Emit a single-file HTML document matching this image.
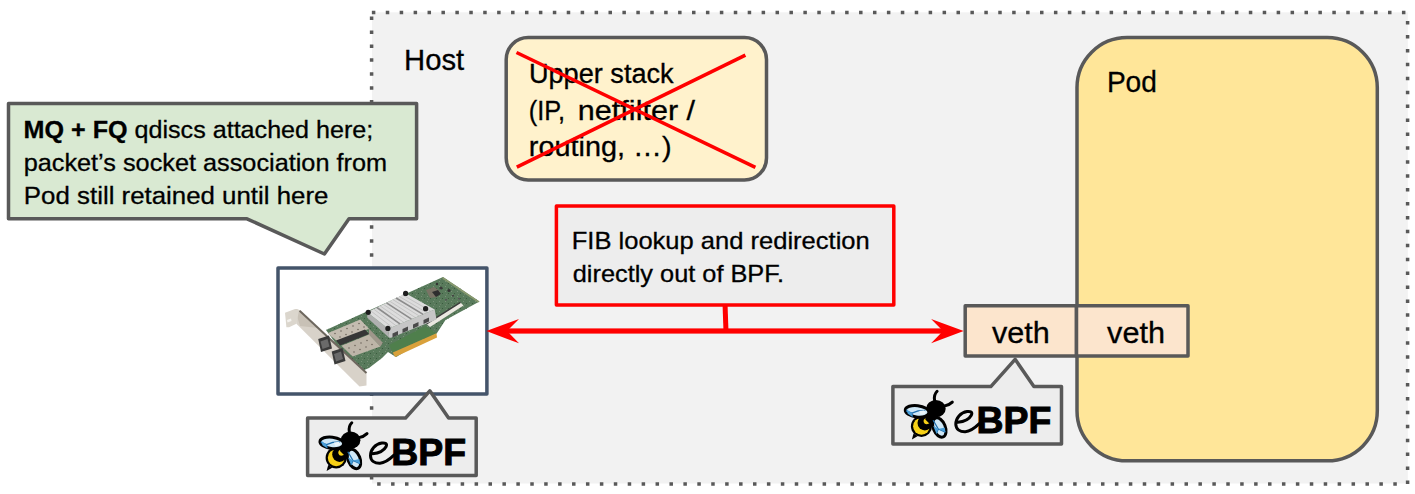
<!DOCTYPE html>
<html><head><meta charset="utf-8"><style>
html,body{margin:0;padding:0;background:#fff;}
body{width:1415px;height:494px;overflow:hidden;}
svg{display:block;}
path,rect{stroke-linejoin:round;}
text{font-family:"Liberation Sans",sans-serif;fill:#000;stroke:#000;stroke-width:0.3px;}
</style></head><body>
<svg width="1415" height="494" viewBox="0 0 1415 494">
<defs>
<pattern id="pcbdots" width="6" height="5" patternUnits="userSpaceOnUse"><rect x="1" y="1" width="1" height="1" fill="#7a9279"/><rect x="4" y="3" width="1" height="1" fill="#3b5a3e"/><rect x="2" y="4" width="1" height="1" fill="#6f866d"/></pattern>
<g id="logo"><g stroke="#000" stroke-width="3" stroke-linecap="round" fill="none">
<path d="M349.3 432 C348.6 428,349.6 425,351.8 422.8"/>
<path d="M358.8 437.6 C362 437,365 435.6,367 433.6"/>
</g>
<path d="M328.2 465 L326.6 471 L332.5 467.5 Z" fill="#000"/>
<circle cx="336.2" cy="457.8" r="10.6" fill="#000"/>
<circle cx="336.2" cy="457.8" r="8.4" fill="#f7d117"/><circle cx="339.6" cy="454.6" r="7.4" fill="#000"/>
<ellipse cx="342.6" cy="452.2" rx="4.4" ry="3.1" transform="rotate(-20 342.6 452.2)" fill="#f7d117"/>
<ellipse cx="350.6" cy="440.2" rx="9.8" ry="8.6" fill="#000"/>
<path d="M341 445 L350 448 L349 454 L345 456 L340 451Z" fill="#000"/>
<g transform="translate(331.8 442.8) rotate(7)">
<ellipse cx="0" cy="0" rx="11.9" ry="5.7" fill="#cfe8f7" stroke="#000" stroke-width="3"/>
<path d="M-11 1 L-5 2.5 L1 -0.5 L8 -2" fill="none" stroke="#1f6fae" stroke-width="1.3"/>
<path d="M-5 2.5 L-4 6" fill="none" stroke="#1f6fae" stroke-width="1.3"/>
<path d="M-11 -1 L-5 2.5 L-4.5 5.8 L-9 3.5 Z" fill="#4a9fd8"/>
<path d="M2 -0.5 L7 -2 L9 1 L4 3 Z" fill="#e9f5fc"/>
</g>
<g transform="translate(354 459) rotate(-22)">
<ellipse cx="0" cy="0" rx="6" ry="10.2" fill="#cfe8f7" stroke="#000" stroke-width="3"/>
<path d="M-3 -9 L-1.5 1 L4 6.5 M-1.5 1 L-5 4.5" fill="none" stroke="#1f6fae" stroke-width="1.3"/>
<path d="M-5 -4 L-1.5 1 L-5 4.5 Z" fill="#4a9fd8"/>
<path d="M-1.5 1 L5 2 L4 6.5 Z" fill="#4a9fd8"/>
</g>
<path d="M372.4 453.8 C377.5 453.3,383.8 451,386 446.8 C387.6 443.6,385.2 442.6,381.8 443 C375.2 444,370.4 449.5,370.5 455.7 C370.6 461.2,375 463.5,380 463.3 C385.5 463,389.5 459.5,394 455.2" fill="none" stroke="#000" stroke-width="3" stroke-linecap="round"/>
<text x="391.3" y="464.5" font-size="37.5" font-weight="bold" textLength="74.77" lengthAdjust="spacingAndGlyphs" stroke="#000" stroke-width="1" style="font-family:'Liberation Sans',sans-serif;stroke-width:1px">BPF</text>
</g>
</defs>
<rect x="0" y="0" width="1415" height="494" fill="#fff"/>
<rect x="372" y="12.3" width="1035.8" height="471.2" fill="#f2f2f2"/>
<path d="M371.85 10.65h3.5v3.5h-3.5zM385.77 10.65h3.5v3.5h-3.5zM399.69 10.65h3.5v3.5h-3.5zM413.61 10.65h3.5v3.5h-3.5zM427.53 10.65h3.5v3.5h-3.5zM441.45 10.65h3.5v3.5h-3.5zM455.37 10.65h3.5v3.5h-3.5zM469.29 10.65h3.5v3.5h-3.5zM483.21 10.65h3.5v3.5h-3.5zM497.13 10.65h3.5v3.5h-3.5zM511.05 10.65h3.5v3.5h-3.5zM524.97 10.65h3.5v3.5h-3.5zM538.89 10.65h3.5v3.5h-3.5zM552.81 10.65h3.5v3.5h-3.5zM566.73 10.65h3.5v3.5h-3.5zM580.65 10.65h3.5v3.5h-3.5zM594.57 10.65h3.5v3.5h-3.5zM608.49 10.65h3.5v3.5h-3.5zM622.41 10.65h3.5v3.5h-3.5zM636.33 10.65h3.5v3.5h-3.5zM650.25 10.65h3.5v3.5h-3.5zM664.17 10.65h3.5v3.5h-3.5zM678.09 10.65h3.5v3.5h-3.5zM692.01 10.65h3.5v3.5h-3.5zM705.93 10.65h3.5v3.5h-3.5zM719.85 10.65h3.5v3.5h-3.5zM733.77 10.65h3.5v3.5h-3.5zM747.69 10.65h3.5v3.5h-3.5zM761.61 10.65h3.5v3.5h-3.5zM775.53 10.65h3.5v3.5h-3.5zM789.45 10.65h3.5v3.5h-3.5zM803.37 10.65h3.5v3.5h-3.5zM817.29 10.65h3.5v3.5h-3.5zM831.21 10.65h3.5v3.5h-3.5zM845.13 10.65h3.5v3.5h-3.5zM859.05 10.65h3.5v3.5h-3.5zM872.97 10.65h3.5v3.5h-3.5zM886.89 10.65h3.5v3.5h-3.5zM900.81 10.65h3.5v3.5h-3.5zM914.73 10.65h3.5v3.5h-3.5zM928.65 10.65h3.5v3.5h-3.5zM942.57 10.65h3.5v3.5h-3.5zM956.49 10.65h3.5v3.5h-3.5zM970.41 10.65h3.5v3.5h-3.5zM984.33 10.65h3.5v3.5h-3.5zM998.25 10.65h3.5v3.5h-3.5zM1012.17 10.65h3.5v3.5h-3.5zM1026.09 10.65h3.5v3.5h-3.5zM1040.01 10.65h3.5v3.5h-3.5zM1053.93 10.65h3.5v3.5h-3.5zM1067.85 10.65h3.5v3.5h-3.5zM1081.77 10.65h3.5v3.5h-3.5zM1095.69 10.65h3.5v3.5h-3.5zM1109.61 10.65h3.5v3.5h-3.5zM1123.53 10.65h3.5v3.5h-3.5zM1137.45 10.65h3.5v3.5h-3.5zM1151.37 10.65h3.5v3.5h-3.5zM1165.29 10.65h3.5v3.5h-3.5zM1179.21 10.65h3.5v3.5h-3.5zM1193.13 10.65h3.5v3.5h-3.5zM1207.05 10.65h3.5v3.5h-3.5zM1220.97 10.65h3.5v3.5h-3.5zM1234.89 10.65h3.5v3.5h-3.5zM1248.81 10.65h3.5v3.5h-3.5zM1262.73 10.65h3.5v3.5h-3.5zM1276.65 10.65h3.5v3.5h-3.5zM1290.57 10.65h3.5v3.5h-3.5zM1304.49 10.65h3.5v3.5h-3.5zM1318.41 10.65h3.5v3.5h-3.5zM1332.33 10.65h3.5v3.5h-3.5zM1346.25 10.65h3.5v3.5h-3.5zM1360.17 10.65h3.5v3.5h-3.5zM1374.09 10.65h3.5v3.5h-3.5zM1388.01 10.65h3.5v3.5h-3.5zM1401.93 10.65h3.5v3.5h-3.5zM1405.85 21.05h3.5v3.5h-3.5zM1405.85 34.97h3.5v3.5h-3.5zM1405.85 48.89h3.5v3.5h-3.5zM1405.85 62.81h3.5v3.5h-3.5zM1405.85 76.73h3.5v3.5h-3.5zM1405.85 90.65h3.5v3.5h-3.5zM1405.85 104.57h3.5v3.5h-3.5zM1405.85 118.49h3.5v3.5h-3.5zM1405.85 132.41h3.5v3.5h-3.5zM1405.85 146.33h3.5v3.5h-3.5zM1405.85 160.25h3.5v3.5h-3.5zM1405.85 174.17h3.5v3.5h-3.5zM1405.85 188.09h3.5v3.5h-3.5zM1405.85 202.01h3.5v3.5h-3.5zM1405.85 215.93h3.5v3.5h-3.5zM1405.85 229.85h3.5v3.5h-3.5zM1405.85 243.77h3.5v3.5h-3.5zM1405.85 257.69h3.5v3.5h-3.5zM1405.85 271.61h3.5v3.5h-3.5zM1405.85 285.53h3.5v3.5h-3.5zM1405.85 299.45h3.5v3.5h-3.5zM1405.85 313.37h3.5v3.5h-3.5zM1405.85 327.29h3.5v3.5h-3.5zM1405.85 341.21h3.5v3.5h-3.5zM1405.85 355.13h3.5v3.5h-3.5zM1405.85 369.05h3.5v3.5h-3.5zM1405.85 382.97h3.5v3.5h-3.5zM1405.85 396.89h3.5v3.5h-3.5zM1405.85 410.81h3.5v3.5h-3.5zM1405.85 424.73h3.5v3.5h-3.5zM1405.85 438.65h3.5v3.5h-3.5zM1405.85 452.57h3.5v3.5h-3.5zM1405.85 466.49h3.5v3.5h-3.5zM1405.85 480.41h3.5v3.5h-3.5zM377.15 482.35h3.5v3.5h-3.5zM391.07 482.35h3.5v3.5h-3.5zM404.99 482.35h3.5v3.5h-3.5zM418.91 482.35h3.5v3.5h-3.5zM432.83 482.35h3.5v3.5h-3.5zM446.75 482.35h3.5v3.5h-3.5zM460.67 482.35h3.5v3.5h-3.5zM474.59 482.35h3.5v3.5h-3.5zM488.51 482.35h3.5v3.5h-3.5zM502.43 482.35h3.5v3.5h-3.5zM516.35 482.35h3.5v3.5h-3.5zM530.27 482.35h3.5v3.5h-3.5zM544.19 482.35h3.5v3.5h-3.5zM558.11 482.35h3.5v3.5h-3.5zM572.03 482.35h3.5v3.5h-3.5zM585.95 482.35h3.5v3.5h-3.5zM599.87 482.35h3.5v3.5h-3.5zM613.79 482.35h3.5v3.5h-3.5zM627.71 482.35h3.5v3.5h-3.5zM641.63 482.35h3.5v3.5h-3.5zM655.55 482.35h3.5v3.5h-3.5zM669.47 482.35h3.5v3.5h-3.5zM683.39 482.35h3.5v3.5h-3.5zM697.31 482.35h3.5v3.5h-3.5zM711.23 482.35h3.5v3.5h-3.5zM725.15 482.35h3.5v3.5h-3.5zM739.07 482.35h3.5v3.5h-3.5zM752.99 482.35h3.5v3.5h-3.5zM766.91 482.35h3.5v3.5h-3.5zM780.83 482.35h3.5v3.5h-3.5zM794.75 482.35h3.5v3.5h-3.5zM808.67 482.35h3.5v3.5h-3.5zM822.59 482.35h3.5v3.5h-3.5zM836.51 482.35h3.5v3.5h-3.5zM850.43 482.35h3.5v3.5h-3.5zM864.35 482.35h3.5v3.5h-3.5zM878.27 482.35h3.5v3.5h-3.5zM892.19 482.35h3.5v3.5h-3.5zM906.11 482.35h3.5v3.5h-3.5zM920.03 482.35h3.5v3.5h-3.5zM933.95 482.35h3.5v3.5h-3.5zM947.87 482.35h3.5v3.5h-3.5zM961.79 482.35h3.5v3.5h-3.5zM975.71 482.35h3.5v3.5h-3.5zM989.63 482.35h3.5v3.5h-3.5zM1003.55 482.35h3.5v3.5h-3.5zM1017.47 482.35h3.5v3.5h-3.5zM1031.39 482.35h3.5v3.5h-3.5zM1045.31 482.35h3.5v3.5h-3.5zM1059.23 482.35h3.5v3.5h-3.5zM1073.15 482.35h3.5v3.5h-3.5zM1087.07 482.35h3.5v3.5h-3.5zM1100.99 482.35h3.5v3.5h-3.5zM1114.91 482.35h3.5v3.5h-3.5zM1128.83 482.35h3.5v3.5h-3.5zM1142.75 482.35h3.5v3.5h-3.5zM1156.67 482.35h3.5v3.5h-3.5zM1170.59 482.35h3.5v3.5h-3.5zM1184.51 482.35h3.5v3.5h-3.5zM1198.43 482.35h3.5v3.5h-3.5zM1212.35 482.35h3.5v3.5h-3.5zM1226.27 482.35h3.5v3.5h-3.5zM1240.19 482.35h3.5v3.5h-3.5zM1254.11 482.35h3.5v3.5h-3.5zM1268.03 482.35h3.5v3.5h-3.5zM1281.95 482.35h3.5v3.5h-3.5zM1295.87 482.35h3.5v3.5h-3.5zM1309.79 482.35h3.5v3.5h-3.5zM1323.71 482.35h3.5v3.5h-3.5zM1337.63 482.35h3.5v3.5h-3.5zM1351.55 482.35h3.5v3.5h-3.5zM1365.47 482.35h3.5v3.5h-3.5zM1379.39 482.35h3.5v3.5h-3.5zM1393.31 482.35h3.5v3.5h-3.5zM369.85 16.55h3.5v3.5h-3.5zM369.85 30.47h3.5v3.5h-3.5zM369.85 44.39h3.5v3.5h-3.5zM369.85 58.31h3.5v3.5h-3.5zM369.85 72.23h3.5v3.5h-3.5zM369.85 86.15h3.5v3.5h-3.5zM369.85 100.07h3.5v3.5h-3.5zM369.85 113.99h3.5v3.5h-3.5zM369.85 127.91h3.5v3.5h-3.5zM369.85 141.83h3.5v3.5h-3.5zM369.85 155.75h3.5v3.5h-3.5zM369.85 169.67h3.5v3.5h-3.5zM369.85 183.59h3.5v3.5h-3.5zM369.85 197.51h3.5v3.5h-3.5zM369.85 211.43h3.5v3.5h-3.5zM369.85 225.35h3.5v3.5h-3.5zM369.85 239.27h3.5v3.5h-3.5zM369.85 253.19h3.5v3.5h-3.5zM369.85 267.11h3.5v3.5h-3.5zM369.85 281.03h3.5v3.5h-3.5zM369.85 294.95h3.5v3.5h-3.5zM369.85 308.87h3.5v3.5h-3.5zM369.85 322.79h3.5v3.5h-3.5zM369.85 336.71h3.5v3.5h-3.5zM369.85 350.63h3.5v3.5h-3.5zM369.85 364.55h3.5v3.5h-3.5zM369.85 378.47h3.5v3.5h-3.5zM369.85 392.39h3.5v3.5h-3.5zM369.85 406.31h3.5v3.5h-3.5zM369.85 420.23h3.5v3.5h-3.5zM369.85 434.15h3.5v3.5h-3.5zM369.85 448.07h3.5v3.5h-3.5zM369.85 461.99h3.5v3.5h-3.5zM369.85 475.91h3.5v3.5h-3.5z" fill="#595959"/>
<rect x="506.2" y="37.6" width="260.3" height="142.4" rx="22" fill="#fff2cc" stroke="#595959" stroke-width="3.5"/>
<rect x="1077" y="37.6" width="300.3" height="423.2" rx="50" fill="#ffe699" stroke="#595959" stroke-width="3.5"/>
<rect x="965.2" y="305.8" width="111.3" height="50.3" fill="#fce5cd" stroke="#595959" stroke-width="3.5"/>
<rect x="1076.5" y="305.8" width="111.5" height="50.3" fill="#fce5cd" stroke="#595959" stroke-width="3.5"/>
<path d="M8.5 103.6H416.6V218.8H349L324.4 254L247 218.8H8.5Z" fill="#d9e9d2" stroke="#595959" stroke-width="3.5" stroke-linejoin="round"/>
<rect x="278" y="267.9" width="208.9" height="126.1" fill="#fff" stroke="#44546a" stroke-width="3.5"/>
<g id="nic"><g stroke="none">
<!-- PCB -->
<path d="M326 330L443 277.1L479.5 301.4L445.5 320L437 333L396 357L388 352L382 358L369 368L362 371L352 366Z" fill="#587a5b"/>
<path d="M326 330L443 277.1L479.5 301.4L445.5 320L437 333L396 357L388 352L382 358L369 368L362 371L352 366Z" fill="url(#pcbdots)"/>
<path d="M443 277.1L479.5 301.4L478 302.5L442 278.5Z" fill="#8a9a70"/>
<!-- rail -->
<path d="M460.5 302.5L463.5 305.5L430 327L426.5 324Z" fill="#ebe8e1"/>
<path d="M460.5 302.3L426.5 323.8" stroke="#3c3c3c" stroke-width="1.4" fill="none"/>
<!-- connector + gold -->
<path d="M389 345L425.6 326L436.5 333.3L392.8 352.4Z" fill="#4f7f4c"/>
<path d="M392.8 352.4L436.5 333.3L437 337.5L395 357Z" fill="#d9a13b"/>
<!-- components -->
<path d="M426 290L434 287L440 291L437 297L430 298Z" fill="#7a7466"/><path d="M432 292L438 290L441 294L436 297Z" fill="#2e2e2e"/>
<circle cx="441" cy="288" r="1.6" fill="#3a3a3a"/><circle cx="449" cy="290.5" r="1.6" fill="#333"/><circle cx="437" cy="284" r="1.2" fill="#333"/>
<rect x="452" y="295" width="2" height="1.5" fill="#444"/><rect x="458" y="298" width="2" height="1.5" fill="#555"/><rect x="445" y="299" width="2" height="1.5" fill="#555"/>
<!-- bracket -->
<path d="M295 309.1L299.1 310L366.5 372.5L366.5 385.5L359.5 386.5L296.4 323.7Z" fill="#d8d2c9"/>
<path d="M295 309.1L299.1 310L318 328L300 326Z" fill="#c8c1b6"/>
<path d="M299.6 310.8L366.5 373" stroke="#6d675e" stroke-width="2" fill="none"/>
<path d="M285 312.7L295 309.1L299.1 310L296.4 323.7L289.1 327.3L286.4 327.3Z" fill="#dbd6cd"/>
<path d="M287 320L291 318.5L291.5 321L287.5 322.5Z" fill="#f4f2ee"/>
<!-- SFP cage -->
<path d="M369 328.8L382.9 342.7L380.4 346.4L369 334.5Z" fill="#9f978b"/>
<path d="M327.6 333.2L360.3 319.4L369 328.8L337.6 341.4Z" fill="#c4bcb0"/>
<path d="M341.4 345.8L369 334.5L380.4 346.4L352.7 356.5Z" fill="#bdb5a8"/>
<path d="M336 340.5L365 329.5L369 334L340 345.5Z" fill="#363636"/>
<g fill="#6f685e"><circle cx="335" cy="333.5" r="0.8"/><circle cx="341" cy="331" r="0.8"/><circle cx="347" cy="328.5" r="0.8"/><circle cx="353" cy="326" r="0.8"/><circle cx="359" cy="323.5" r="0.8"/><circle cx="340" cy="337" r="0.8"/><circle cx="346" cy="334.5" r="0.8"/><circle cx="352" cy="332" r="0.8"/><circle cx="358" cy="329.5" r="0.8"/><circle cx="364" cy="327" r="0.8"/>
<circle cx="349" cy="348" r="0.8"/><circle cx="355" cy="345.5" r="0.8"/><circle cx="361" cy="343" r="0.8"/><circle cx="367" cy="340.5" r="0.8"/><circle cx="354" cy="352" r="0.8"/><circle cx="360" cy="349.5" r="0.8"/><circle cx="366" cy="347" r="0.8"/><circle cx="372" cy="344.5" r="0.8"/></g>
<!-- ports -->
<path d="M318.2 339L329 335.5L332 348.5L321 352Z" fill="#3b3b3b"/>
<path d="M320.5 341.5L327.5 339L329.5 346.5L322.5 349Z" fill="#6a6a6a"/>
<path d="M331.7 351.5L342.5 348L345.5 361L334.5 364.5Z" fill="#3b3b3b"/>
<path d="M334 354L341 351.5L343 359L336 361.5Z" fill="#6a6a6a"/>
<!-- heatsink -->
<path d="M367.3 312.3L388.3 328.7L389.2 337.8L367.3 317.8Z" fill="#b0b0b0"/>
<path d="M388.3 328.7L434.7 309.6L436.5 319.6L391 337.8L389.2 337.8Z" fill="#c6c6c6"/>
<path d="M367.3 312.3L405.6 293.2L434.7 309.6L388.3 328.7Z" fill="#dcdcdc"/>
<g stroke="#b9b9b9" stroke-width="0.7" fill="none">
<path d="M370.5 310.7L392 327.1M373.7 309.1L395.8 325.5M380.1 305.9L403.7 322.3M383.3 304.3L407.6 320.7M389.7 301.2L415.4 317.6M392.9 299.6L419.3 316M399.2 296.4L427 312.8M402.4 294.8L430.9 311.2"/>
</g>
<g stroke="#8c8c8c" stroke-width="1.6" fill="none">
<path d="M376.9 307.5L399.9 323.9M386.5 302.8L411.5 319.2M396 298L423.1 314.4"/>
</g>
<g fill="#4a4a4a"><path d="M392.5 333.5L398 331L398 335L392.5 337.5Z"/><path d="M402.5 329L408 326.5L408 330.5L402.5 333Z"/><path d="M413 324.5L418.5 322L418.5 326L413 328.5Z"/><path d="M423.5 320L429 317.5L429 321.5L423.5 324Z"/></g>
<g fill="#1e1e1e"><circle cx="368.2" cy="312.3" r="2.6"/><circle cx="405.6" cy="293.4" r="2.6"/><circle cx="425.6" cy="308.7" r="2.6"/><circle cx="387.9" cy="328.4" r="2.6"/></g>
</g>
</g>
<rect x="556.4" y="206.1" width="337.4" height="98.8" fill="#ededed" stroke="#ff0000" stroke-width="3.5"/>
<g id="arrows" fill="#ff0000" stroke="none">
<rect x="505" y="328.4" width="440" height="5.2"/>
<path d="M722.6 306L727.6 306L728.4 329L723.4 329Z"/>
<path d="M486.3 331L519 318.9L507 331L519 343.3Z"/>
<path d="M963.7 331L931.1 318.9L943 331L931.1 343.3Z"/>
</g>
<g id="callout1">
<path d="M307.6 418.1H405.5L429.8 390.8L448.6 418.1H476.2V475.5H307.6Z" fill="#ededed" stroke="#595959" stroke-width="3.5"/>
<use href="#logo"/>
</g>
<g transform="translate(585.3,-31.5)">
<path d="M307.6 418.1H405.5L429.8 390.8L448.6 418.1H476.2V475.5H307.6Z" fill="#ededed" stroke="#595959" stroke-width="3.5"/>
<use href="#logo"/>
</g>
<g id="texts">
<text x="404.1" y="70" font-size="29.5" textLength="60.11" lengthAdjust="spacingAndGlyphs">Host</text>
<text x="528.91" y="82.6" font-size="26.8" textLength="144.75" lengthAdjust="spacingAndGlyphs">Upper stack</text>
<text x="528.86" y="119.6" font-size="26.8" textLength="36.13" lengthAdjust="spacingAndGlyphs">(IP,</text>
<text x="577.87" y="119.6" font-size="26.8" textLength="117.23" lengthAdjust="spacingAndGlyphs">netfilter /</text>
<text x="528.78" y="155.5" font-size="26.8" textLength="142.81" lengthAdjust="spacingAndGlyphs">routing, …)</text>
<text x="1106.89" y="91.8" font-size="29.5" textLength="50.02" lengthAdjust="spacingAndGlyphs">Pod</text>
<text x="992.0" y="342.8" font-size="29" textLength="57.79" lengthAdjust="spacingAndGlyphs">veth</text>
<text x="1107.1" y="342.8" font-size="29" textLength="57.89" lengthAdjust="spacingAndGlyphs">veth</text>
<text x="23.62" y="138" font-size="24.2" textLength="349.64" lengthAdjust="spacingAndGlyphs"><tspan font-weight="bold">MQ + FQ</tspan> qdiscs attached here;</text>
<text x="23.67" y="171" font-size="24.2" textLength="363.39" lengthAdjust="spacingAndGlyphs">packet’s socket association from</text>
<text x="23.88" y="204" font-size="24.2" textLength="304.57" lengthAdjust="spacingAndGlyphs">Pod still retained until here</text>
<text x="571.71" y="248.7" font-size="24" textLength="298.05" lengthAdjust="spacingAndGlyphs">FIB lookup and redirection</text>
<text x="572.75" y="282" font-size="24" textLength="211.23" lengthAdjust="spacingAndGlyphs">directly out of BPF.</text>
</g>
<g stroke="#ff0000" stroke-width="3.6" stroke-linecap="butt">
<line x1="516.5" y1="52.5" x2="755.4" y2="167.3"/>
<line x1="516.8" y1="167.1" x2="745.4" y2="55.2"/>
</g>
</svg>
</body></html>
